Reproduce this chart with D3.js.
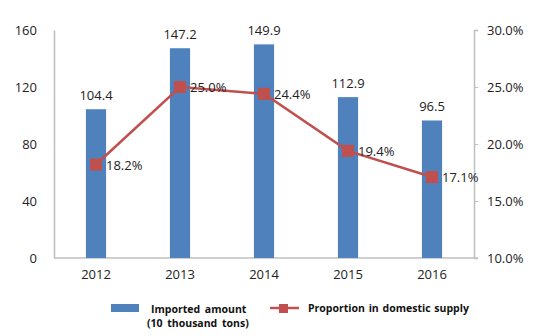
<!DOCTYPE html>
<html>
<head>
<meta charset="utf-8">
<script src="https://cdn.jsdelivr.net/npm/d3@7"></script>
<style>
  body { margin: 0; background: #fff; }
  text { font-family: "Open Sans", "DejaVu Sans", sans-serif; }
</style>
</head>
<body>
<script>
const w = 556;
const h = 336;
const barColor = "#4F81BD";
const lineColor = "#C0504D";
const axisColor = "#BFBFBF";

const years = ["2012", "2013", "2014", "2015", "2016"];
const imported = [104.4, 147.2, 149.9, 112.9, 96.5];
const proportion = [18.2, 25.0, 24.4, 19.4, 17.1];
const leftTicks = [0, 40, 80, 120, 160];
const rightTicks = [10, 15, 20, 25, 30];

const margin = {left: 54, right: 82, top: 30, bottom: 78};

const svg = d3.select("body")
              .append("svg")
              .attr("width", w)
              .attr("height", h);

const x = d3.scaleBand()
            .domain(years)
            .range([margin.left, w - margin.right])
            .paddingInner(0.76)
            .paddingOuter(0.38);

const yL = d3.scaleLinear().domain([0, 160]).range([h - margin.bottom, margin.top]);
const yR = d3.scaleLinear().domain([10, 30]).range([h - margin.bottom, margin.top]);

const cx = d => x(d) + x.bandwidth() / 2;

// left axis
const gL = svg.append("g")
   .attr("transform", "translate(" + margin.left + ",0)")
   .call(d3.axisLeft(yL).tickValues(leftTicks).tickSize(0).tickPadding(17));
// right axis
const gR = svg.append("g")
   .attr("transform", "translate(" + (w - margin.right) + ",0)")
   .call(d3.axisRight(yR).tickValues(rightTicks).tickSize(4).tickPadding(9)
           .tickFormat(d => d.toFixed(1) + "%"));
// bottom axis
const gB = svg.append("g")
   .attr("transform", "translate(0," + (h - margin.bottom) + ")")
   .call(d3.axisBottom(x).tickSize(0).tickPadding(12));

[gL, gR, gB].forEach(g => {
  g.selectAll(".domain").attr("stroke", axisColor).attr("stroke-width", 1.5);
  g.selectAll("line").attr("stroke", axisColor);
  g.selectAll("text").attr("fill", "#222").style("font-size", "13px")
   .style("font-family", "'Open Sans', sans-serif");
});
gB.select(".domain").attr("d", "M" + margin.left + ",0H" + (w - margin.right + 4));

// bars
svg.append("g")
   .selectAll("rect")
   .data(years)
   .enter()
   .append("rect")
   .attr("x", d => x(d))
   .attr("width", x.bandwidth())
   .attr("y", (d, i) => yL(imported[i]))
   .attr("height", (d, i) => yL(0) - yL(imported[i]))
   .attr("fill", barColor);

svg.append("g")
   .selectAll("text")
   .data(years)
   .enter()
   .append("text")
   .attr("x", d => cx(d))
   .attr("y", (d, i) => yL(imported[i]) - 9)
   .attr("text-anchor", "middle")
   .attr("fill", "#222")
   .style("font-size", "13px")
   .text((d, i) => imported[i].toFixed(1));

// line
const line = d3.line()
   .x(d => cx(d))
   .y((d, i) => yR(proportion[i]));

svg.append("path")
   .datum(years)
   .attr("d", line)
   .attr("fill", "none")
   .attr("stroke", lineColor)
   .attr("stroke-width", 2.5);

svg.append("g")
   .selectAll("rect")
   .data(years)
   .enter()
   .append("rect")
   .attr("x", d => cx(d) - 6)
   .attr("y", (d, i) => yR(proportion[i]) - 6)
   .attr("width", 12)
   .attr("height", 12)
   .attr("fill", lineColor);

svg.append("g")
   .selectAll("text")
   .data(years)
   .enter()
   .append("text")
   .attr("x", d => cx(d) + 10)
   .attr("y", (d, i) => yR(proportion[i]) + 5)
   .attr("fill", "#222")
   .style("font-size", "13px")
   .text((d, i) => proportion[i].toFixed(1) + "%");

// legend
const leg = svg.append("g").style("font-family", "'Liberation Sans', Arial, sans-serif")
   .style("font-size", "10.5px").style("font-weight", "bold");
leg.append("rect").attr("x", 111).attr("y", 304).attr("width", 28).attr("height", 8).attr("fill", barColor);
leg.append("text").attr("x", 151).attr("y", 313).attr("fill", "#111")
   .attr("word-spacing", "2px").text("Imported amount");
leg.append("text").attr("x", 147).attr("y", 327).attr("fill", "#111")
   .attr("word-spacing", "2px").text("(10 thousand tons)");
leg.append("line").attr("x1", 270).attr("x2", 299).attr("y1", 308).attr("y2", 308)
   .attr("stroke", lineColor).attr("stroke-width", 2.5);
leg.append("rect").attr("x", 279).attr("y", 304).attr("width", 9).attr("height", 9).attr("fill", lineColor);
leg.append("text").attr("x", 308).attr("y", 312).attr("fill", "#111")
   .attr("word-spacing", "1px").text("Proportion in domestic supply");
</script>
</body>
</html>
